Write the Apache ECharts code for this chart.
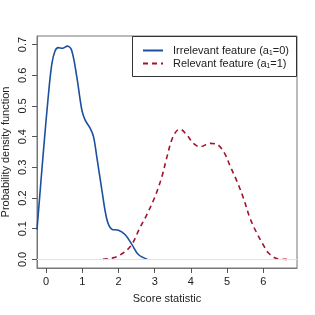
<!DOCTYPE html>
<html><head><meta charset="utf-8">
<script src="https://cdn.jsdelivr.net/npm/echarts@6/dist/echarts.min.js"></script>
<style>html,body{margin:0;padding:0;background:#fff}#c{width:315px;height:315px}</style>
</head><body><div id="c"></div>
<script>
const xTicks = [0, 1, 2, 3, 4, 5, 6];
const yTicks = [0, 0.1, 0.2, 0.3, 0.4, 0.5, 0.6, 0.7];
const irrelevant = [[-0.25,0.097],[-0.07,0.356],[0.06,0.53],[0.16,0.637],[0.25,0.68],[0.34,0.69],[0.45,0.688],[0.59,0.695],[0.71,0.68],[0.85,0.594],[0.99,0.486],[1.08,0.454],[1.22,0.427],[1.31,0.40],[1.40,0.335],[1.54,0.227],[1.68,0.13],[1.81,0.099],[2.0,0.095],[2.18,0.081],[2.37,0.049],[2.55,0.016],[2.8,0.0]];
const relevant = [[1.57,0],[1.95,0.009],[2.32,0.041],[2.6,0.105],[2.78,0.145],[3.01,0.205],[3.2,0.27],[3.33,0.33],[3.47,0.389],[3.6,0.418],[3.70,0.424],[3.89,0.405],[4.07,0.378],[4.25,0.367],[4.53,0.378],[4.72,0.375],[4.92,0.348],[5.08,0.305],[5.27,0.255],[5.45,0.2],[5.63,0.135],[5.81,0.088],[6.0,0.047],[6.15,0.02],[6.37,0.003],[6.65,0.0]];
const names = ['Irrelevant feature (a\u2081=0)', 'Relevant feature (a\u2081=1)'];

const chart = echarts.init(document.getElementById('c'), null, {renderer:'canvas'});
const font = 'Liberation Sans, Arial, sans-serif';
chart.setOption({
  animation: false,
  grid: {left: 37, right: 18, top: 36, bottom: 47, outerBoundsMode: 'none', containLabel: false,
         show: true, borderColor: '#777', borderWidth: 1, backgroundColor: 'transparent'},
  xAxis: {
    type: 'value', min: -0.25, max: 6.93,
    name: 'Score statistic', nameLocation: 'middle', nameGap: 25,
    nameTextStyle: {fontFamily: font, fontSize: 11, color: '#222'},
    axisLine: {show: true, onZero: false, lineStyle: {color: '#777'}},
    splitLine: {show: false},
    axisTick: {show: true, length: 5, inside: false, customValues: xTicks, lineStyle: {color: '#555'}},
    axisLabel: {customValues: xTicks, margin: 8, fontFamily: font, fontSize: 11, color: '#222'}
  },
  yAxis: {
    type: 'value', min: -0.028, max: 0.728,
    name: 'Probability density function', nameLocation: 'middle', nameGap: 26, nameMoveOverlap: false,
    nameTextStyle: {fontFamily: font, fontSize: 11, color: '#222'},
    axisLine: {show: true, onZero: false, lineStyle: {color: '#777'}},
    splitLine: {show: false},
    axisTick: {show: true, length: 5, inside: false, customValues: yTicks, lineStyle: {color: '#555'}},
    axisLabel: {customValues: yTicks, rotate: 90, margin: 9, fontFamily: font, fontSize: 11, color: '#222',
      formatter: v => v.toFixed(1)}
  },
  legend: {
    orient: 'vertical', left: 142, top: 45, padding: 0, itemWidth: 20, itemHeight: 10, itemGap: 2,
    itemStyle: {opacity: 0},
    textStyle: {fontFamily: font, fontSize: 11, color: '#222', padding: [0,0,0,5]},
    data: names
  },
  graphic: [{type: 'rect', shape: {x: 132.5, y: 36.5, width: 164, height: 40}, style: {fill: 'none', stroke: '#333', lineWidth: 1}, z: 100}],
  series: [
    {name: names[0], type: 'line', data: irrelevant, smooth: 0.35, symbol: 'none',
     lineStyle: {color: '#1c4f9e', width: 1.6}, itemStyle: {color: '#1c4f9e'},
     markLine: {silent: true, symbol: 'none', label: {show: false}, lineStyle: {color: '#e2e2e2', type: 'solid', width: 1}, data: [{yAxis: 0}]}, z: 3},
    {name: names[1], type: 'line', data: relevant, smooth: 0.35, symbol: 'none',
     lineStyle: {color: '#a3132d', width: 1.6, type: [5, 4]}, itemStyle: {color: '#a3132d'}, z: 3}
  ]
});
</script></body></html>
